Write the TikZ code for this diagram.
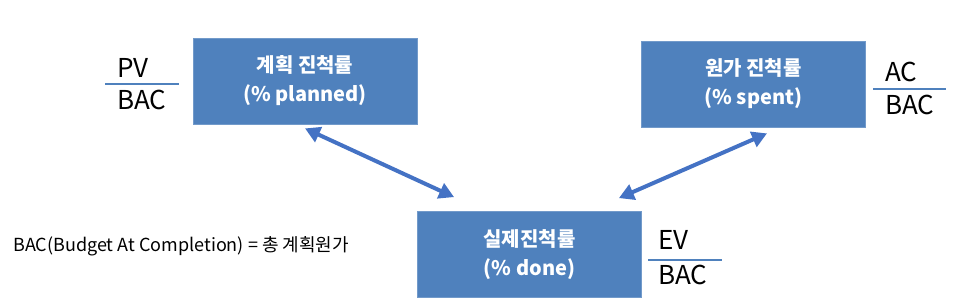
\documentclass[tikz,border=0pt]{standalone}
\usepackage{fontspec}
\setmainfont{Noto Sans CJK KR}
\usepackage{tikz}
\usetikzlibrary{arrows.meta,positioning,calc}
\definecolor{bleuC}{RGB}{79,129,189}
\definecolor{flecheC}{RGB}{68,114,196}
\tikzset{
  bloc/.style={rectangle, draw=bleuC!80!white, line width=0.8pt, fill=bleuC, text=white,
               align=center, font=\fontsize{20}{29}\selectfont\bfseries,
               minimum width=224pt, minimum height=86pt},
  frac/.style={anchor=base west, inner sep=0pt, font=\fontsize{26}{30}\selectfont},
  note/.style={anchor=base west, inner sep=0pt, font=\fontsize{18}{22}\selectfont},
  barre/.style={draw=bleuC, line width=1.5pt},
  arr/.style={{Triangle[length=15pt,width=16pt]}-{Triangle[length=15pt,width=16pt]},
              line width=4pt, draw=flecheC},
}
\begin{document}
\begin{tikzpicture}[x=1pt, y=-1pt]
  \useasboundingbox (0,0) rectangle (967,307);
  \node[bloc] (plan) at (305,81) {계획 진척률\\(\% planned)};
  \node[bloc] (spent) at (753.5,84) {원가 진척률\\(\% spent)};
  \node[bloc] (done) at (529.5,254.5) {실제진척률\\(\% done)};
  \draw[arr] ($(plan.south)+(0,4)$) -- ($(done.north west)+(37,-14)$);
  \draw[arr] ($(spent.south)+(13.5,6)$) -- ($(done.north east)+(-23,-13)$);
  % ratios
  \node[frac] (pv) at (117,78) {PV};
  \node[frac] (pvbac) at (117,110) {BAC};
  \draw[barre] (105,84) -- (179,84);
  \node[frac] (ac) at (885,82) {AC};
  \node[frac] (acbac) at (885,115) {BAC};
  \draw[barre] (873,89) -- (946,89);
  \node[frac] (ev) at (658,250) {EV};
  \node[frac] (evbac) at (658,284) {BAC};
  \draw[barre] (648,260) -- (722,260);
  \node[note] (bac) at (13,252) {BAC(Budget At Completion) = 총 계획원가};
\end{tikzpicture}
\end{document}
